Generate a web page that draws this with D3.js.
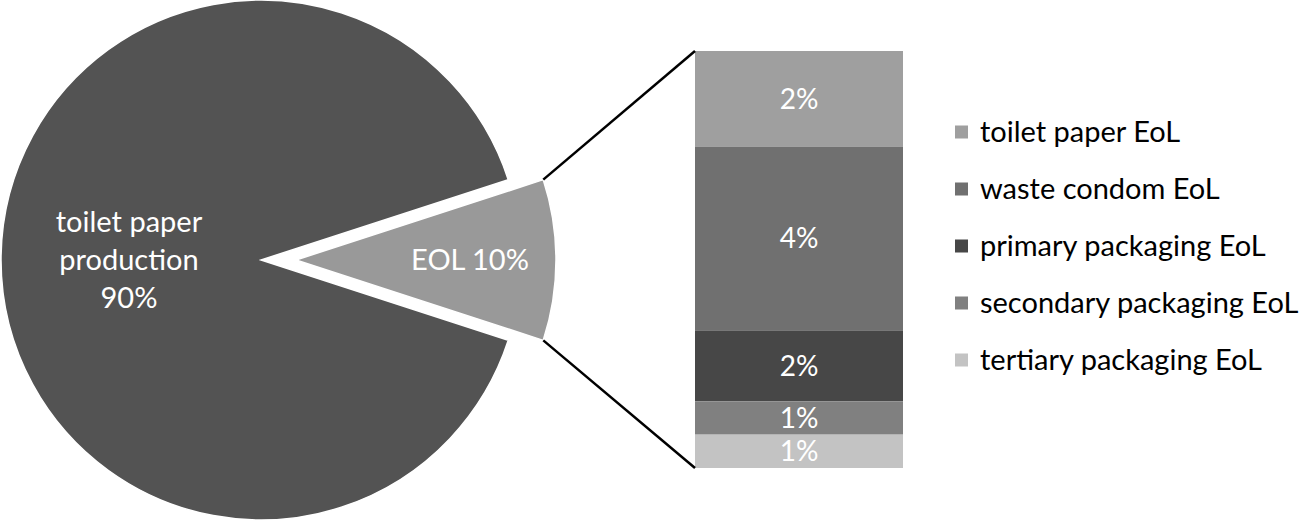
<!DOCTYPE html>
<html>
<head>
<meta charset="utf-8">
<script src="https://cdn.jsdelivr.net/npm/d3@7"></script>
<style>
  body { margin: 0; background: #fff; }
  svg { display: block; font-family: Lato, "Noto Sans", sans-serif; }
</style>
</head>
<body>
<svg id="chart"></svg>
<script>
// pie: production vs end of life (%)
const pieLabels = ["EOL", "toilet paper production"];
const pieValues = [10, 90];
const pieColors = ["#999999", "#535353"];

// bar of pie: EoL breakdown (%), top to bottom
const eolCategories = ["toilet paper EoL", "waste condom EoL", "primary packaging EoL", "secondary packaging EoL", "tertiary packaging EoL"];
const eolValues = [2.3, 4.4, 1.7, 0.8, 0.8];
const eolLabels = ["2%", "4%", "2%", "1%", "1%"];
const eolColors = ["#9f9f9f", "#707070", "#474747", "#808080", "#c3c3c3"];

const width = 1299, height = 520;
const cx = 261, cy = 260, radius = 260;
const explode = 35;
const fontSize = 29;

const svg = d3.select("#chart")
  .attr("width", width)
  .attr("height", height);

// Pie - EOL slice centred on the right side
const pie = d3.pie()
  .sort(null)
  .startAngle(0.4 * Math.PI)
  .endAngle(2.4 * Math.PI);

const arcs = pie(pieValues);
const arc = d3.arc().innerRadius(0).outerRadius(radius);

const pieG = svg.append("g")
  .attr("transform", `translate(${cx},${cy})`);

pieG.selectAll("path")
  .data(arcs)
  .enter().append("path")
  .attr("d", arc)
  .attr("transform", (d, i) => i === 0 ? `translate(${explode},0)` : null)
  .attr("fill", (d, i) => pieColors[i])
  .attr("stroke", "#fff")
  .attr("stroke-width", 1.5);

// Bar of pie
const barX = d3.scaleBand()
  .domain(["EoL"])
  .range([695, 903]);

const total = d3.sum(eolValues);
const barY = d3.scaleLinear()
  .domain([0, total])
  .range([51, 468]);

const tops = [0, ...d3.cumsum(eolValues)];

const barG = svg.append("g");

barG.selectAll("rect")
  .data(eolValues)
  .enter().append("rect")
  .attr("x", barX("EoL"))
  .attr("width", barX.bandwidth())
  .attr("y", (d, i) => barY(tops[i]))
  .attr("height", d => barY(d) - barY(0))
  .attr("fill", (d, i) => eolColors[i]);

barG.selectAll("text")
  .data(eolValues)
  .enter().append("text")
  .attr("x", barX("EoL") + barX.bandwidth() / 2)
  .attr("y", (d, i) => barY(tops[i] + d / 2))
  .attr("dy", "0.35em")
  .attr("text-anchor", "middle")
  .attr("fill", "#fff")
  .attr("font-size", 28)
  .text((d, i) => eolLabels[i]);

// Connector lines from the EOL slice to the bar
const a0 = arcs[0].startAngle, a1 = arcs[0].endAngle;
const corner = a => [cx + explode + radius * Math.sin(a), cy - radius * Math.cos(a)];
const c0 = corner(a0), c1 = corner(a1);

svg.append("line")
  .attr("x1", c0[0]).attr("y1", c0[1])
  .attr("x2", barX("EoL")).attr("y2", barY(0))
  .attr("stroke", "#000").attr("stroke-width", 2.5);

svg.append("line")
  .attr("x1", c1[0]).attr("y1", c1[1])
  .attr("x2", barX("EoL")).attr("y2", barY(total))
  .attr("stroke", "#000").attr("stroke-width", 2.5);

// Pie labels
svg.append("text")
  .attr("x", 470)
  .attr("y", cy)
  .attr("dy", "0.35em")
  .attr("text-anchor", "middle")
  .attr("fill", "#fff")
  .attr("font-size", fontSize)
  .text(`${pieLabels[0]} ${pieValues[0]}%`);

const prodText = svg.append("text")
  .attr("text-anchor", "middle")
  .attr("fill", "#fff")
  .attr("font-size", fontSize);

["toilet paper", "production", `${pieValues[1]}%`].forEach((t, i) => {
  prodText.append("tspan")
    .attr("x", 129)
    .attr("y", cy + (i - 1) * 38)
    .attr("dy", "0.35em")
    .text(t);
});

// Legend
const legend = svg.append("g")
  .attr("transform", "translate(955,132)");

const rows = legend.selectAll("g")
  .data(eolCategories)
  .enter().append("g")
  .attr("transform", (d, i) => `translate(0,${i * 57})`);

rows.append("rect")
  .attr("x", 0)
  .attr("y", -6.5)
  .attr("width", 13)
  .attr("height", 13)
  .attr("fill", (d, i) => eolColors[i]);

rows.append("text")
  .attr("x", 25)
  .attr("dy", "0.35em")
  .attr("fill", "#000")
  .attr("font-size", fontSize)
  .text(d => d);
</script>
</body>
</html>
